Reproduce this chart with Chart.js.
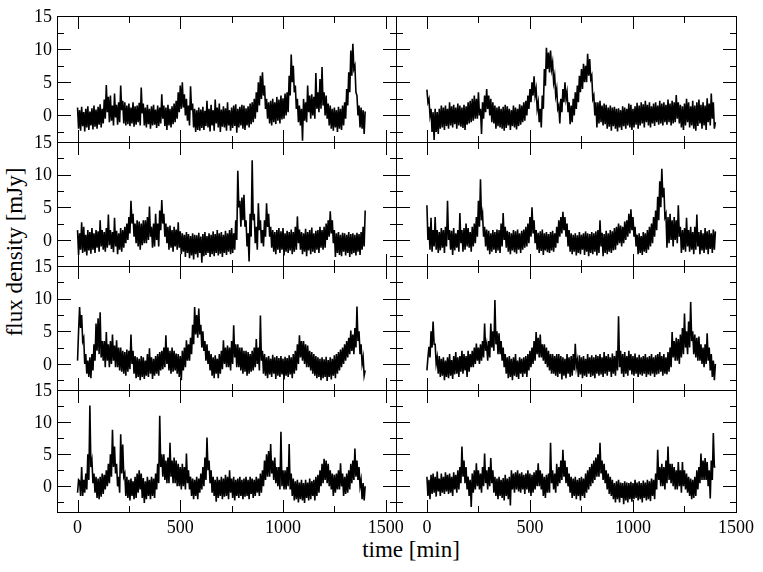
<!DOCTYPE html>
<html><head><meta charset="utf-8">
<script src="https://cdn.jsdelivr.net/npm/chart.js@4"></script>
<style>
html,body{margin:0;padding:0;background:#fff;}
#wrap{position:relative;width:763px;height:572px;overflow:hidden;background:#fff;}
#wrap canvas{position:absolute;left:0;top:0;}
.title{position:absolute;font-family:"Liberation Serif","Times New Roman",serif;font-size:23px;color:#000;white-space:nowrap;line-height:1;}
#xt{left:411px;top:538px;transform:translateX(-50%);}
#yt{left:14px;top:252px;transform:translate(-50%,-50%) rotate(-90deg);}
</style></head><body>
<div id="wrap">
<div class="title" id="xt">time [min]</div>
<div class="title" id="yt">flux density [mJy]</div>
</div>
<script>
// sampling interval of the light curves (minutes)
const sampleStep = 5;

// flux density [mJy], one sample every 5 min from t = 0 to 1400 min (one line = 100 min)
const fluxRow1Left = [
1.2,-2.0, 0.8,-2.3, 1.3,-1.6, 0.5,-2.4, 1.0,-1.8, 1.4,-2.2, 0.6,-1.5, 1.1,-2.1, 1.5,-1.7, 0.9,-2.0,
1.3,-1.4, 1.7,-1.8, 1.0,-1.2, 2.4,-0.5, 4.6,0.5, 2.8,-1.0, 3.0,-0.8, 1.5,-1.5, 3.3,-0.3, 1.6,-1.4,
2.0,-1.0, 4.5,0.8, 2.2,-1.2, 2.0,-1.5, 1.5,-1.3, 1.8,-1.6, 1.2,-1.2, 2.0,-1.7, 1.4,-1.4, 1.5,-1.0,
1.9,-1.5, 4.2,0.3, 1.8,-1.5, 1.2,-1.8, 1.6,-1.3, 1.0,-2.0, 1.4,-1.5, 1.6,-1.4, 0.9,-1.9, 1.5,-1.6,
1.2,-1.2, 3.2,-0.5, 1.5,-1.6, 1.2,-2.2, 1.6,-1.5, 1.0,-1.8, 1.4,-1.3, 1.8,-1.0, 2.2,-0.5, 3.5,0.5,
4.5,1.0, 5.0,1.2, 3.2,0.0, 2.5,-0.8, 1.5,-1.5, 4.4,0.8, 1.8,-1.8, 1.0,-2.5, 0.8,-2.2, 1.2,-2.3,
0.9,-1.9, 1.3,-2.2, 0.7,-1.6, 2.2,-1.8, 1.0,-2.4, 1.6,-1.5, 0.8,-2.3, 2.4,-1.2, 1.2,-1.8, 1.8,-2.5,
0.9,-1.7, 1.4,-1.8, 1.1,-2.3, 2.0,-1.5, 0.8,-2.3, 1.2,-1.9, 1.5,-1.6, 1.7,-2.6, 1.0,-1.8, 1.3,-1.5,
1.6,-2.0, 1.5,-2.2, 1.1,-1.5, 1.4,-1.8, 1.8,-1.3, 2.0,-1.0, 2.5,-0.5, 3.5,0.5, 5.0,1.5, 6.0,2.5,
6.5,3.0, 4.5,1.0, 2.5,-0.5, 2.0,-1.2, 2.2,-1.5, 2.5,-1.0, 2.0,-1.3, 2.8,-0.8, 2.4,-1.2, 3.0,-0.6,
2.6,-0.5, 3.3,0.0, 3.5,0.5, 6.0,3.0, 9.2,5.0, 7.5,3.5, 4.5,1.0, 2.5,-1.0, 1.5,-1.5, 1.0,-3.8,
2.5,-0.8, 2.0,-1.0, 4.5,0.5, 3.0,-0.5, 3.2,0.0, 2.8,-0.5, 6.4,1.0, 3.5,0.5, 5.5,1.0, 7.3,1.5,
3.5,0.0, 3.0,-0.5, 1.8,-1.5, 1.5,-2.0, 1.0,-2.3, 1.2,-1.8, 0.8,-2.5, 1.3,-2.0, 1.0,-2.2, 1.5,-1.5,
2.0,-0.5, 4.0,1.5, 6.5,3.5, 9.8,6.0, 10.8,7.0, 7.5,3.5, 3.0,0.0, 1.5,-1.8, 1.2,-2.0, 0.8,-2.8,
0.6];

const fluxRow1Right = [
3.9,2.0, 2.5,0.0, 1.0,-2.5, 0.5,-3.7, 1.0,-2.5, 0.5,-2.8, 1.0,-2.0, 1.5,-1.8, 1.2,-2.2, 1.5,-1.6,
1.0,-2.0, 2.0,-1.5, 1.4,-1.8, 1.6,-1.3, 1.2,-2.0, 1.8,-1.5, 1.5,-1.7, 1.2,-1.9, 1.6,-2.2, 1.4,-1.4,
2.0,-1.2, 2.2,-1.0, 2.5,-0.8, 3.0,-0.5, 2.5,-0.5, 3.5,0.0, 1.0,-2.8, 2.0,-0.5, 3.0,0.5, 4.0,1.0,
3.0,0.0, 2.5,-1.0, 2.0,-1.2, 1.5,-2.0, 1.2,-1.6, 1.4,-1.8, 1.0,-2.0, 1.3,-2.3, 1.6,-1.9, 1.4,-1.5,
1.0,-2.2, 0.8,-1.6, 1.5,-1.8, 1.2,-2.1, 1.0,-1.6, 1.7,-1.4, 1.5,-1.0, 2.0,-0.8, 2.2,0.0, 3.0,1.0,
4.0,2.0, 5.0,3.0, 5.9,3.0, 4.0,1.0, 2.0,-1.0, 1.0,-1.8, 3.0,1.0, 7.0,4.5, 10.2,7.0, 9.5,6.5,
9.8,7.0, 8.0,5.0, 6.0,3.0, 4.0,1.0, 1.5,-1.2, 2.5,0.5, 4.0,2.0, 5.0,2.5, 3.5,0.5, 2.0,-1.3,
1.5,-1.0, 2.5,0.0, 3.5,1.0, 4.5,2.0, 6.0,3.5, 7.0,4.0, 7.8,5.0, 7.5,5.0, 9.3,6.0, 8.5,5.5,
6.0,2.5, 3.0,0.0, 2.0,-1.8, 2.0,-1.2, 2.2,-1.0, 1.5,-1.5, 1.8,-1.3, 1.6,-2.0, 1.2,-1.7, 1.5,-2.3,
1.2,-1.6, 1.3,-2.0, 1.0,-2.4, 1.1,-1.8, 0.8,-2.2, 1.4,-1.6, 1.2,-2.0, 1.0,-1.5, 1.8,-1.8, 1.6,-2.2,
1.0,-1.8, 1.4,-1.4, 1.9,-2.0, 1.5,-1.5, 2.0,-1.2, 1.7,-1.8, 2.2,-1.0, 1.6,-1.5, 2.0,-1.8, 1.4,-1.2,
1.8,-1.6, 2.0,-1.0, 1.5,-1.4, 2.2,-1.2, 1.8,-1.5, 2.0,-1.0, 1.6,-1.4, 2.4,-1.0, 1.8,-1.5, 2.2,-1.2,
2.0,-1.0, 3.1,-0.5, 2.0,-1.2, 1.6,-1.8, 1.4,-2.2, 1.8,-1.5, 2.5,-1.0, 2.0,-1.8, 1.4,-1.5, 2.2,-2.0,
1.5,-2.3, 2.0,-1.6, 2.4,-1.2, 1.6,-2.0, 2.0,-1.5, 1.5,-2.2, 2.6,-1.0, 1.8,-1.5, 3.3,-0.5, 2.0,-2.0,
-1.0];

const fluxRow2Left = [
1.5,-2.3, 1.0,-1.5, 2.7,-2.0, 2.0,-1.8, 0.8,-2.4, 1.5,-1.6, 1.2,-2.1, 1.8,-1.5, 1.0,-2.0, 1.5,-1.2,
1.3,-1.8, 3.0,-1.0, 1.5,-1.5, 1.2,-1.8, 1.8,-1.2, 3.9,-0.8, 1.5,-1.4, 1.2,-1.9, 3.4,-1.0, 1.4,-2.2,
1.0,-1.5, 1.8,-1.8, 1.5,-1.2, 2.0,-0.5, 2.5,0.0, 3.5,1.0, 6.0,2.5, 4.0,0.5, 2.5,-0.5, 3.0,-1.0,
2.8,-1.5, 2.5,-0.8, 3.0,-0.5, 3.0,-0.5, 3.5,0.0, 5.1,0.5, 2.0,-1.2, 2.5,-1.0, 4.0,0.0, 2.5,-1.0,
4.5,1.5, 6.1,2.5, 4.0,0.5, 2.5,-0.5, 2.0,-1.5, 2.2,-1.2, 1.5,-1.8, 2.0,-1.0, 1.6,-1.5, 2.7,-1.2,
1.3,-2.2, 1.0,-1.8, 0.8,-2.6, 1.2,-2.0, 0.9,-2.8, 0.6,-2.4, 1.0,-3.0, 0.8,-2.2, 0.7,-2.7, 1.1,-2.0,
0.5,-3.5, 0.9,-2.5, 1.2,-2.3, 0.6,-2.0, 1.0,-2.6, 0.8,-2.2, 1.3,-2.5, 0.9,-2.0, 1.5,-2.4, 1.0,-2.1,
1.2,-2.6, 0.8,-2.0, 1.4,-2.3, 1.0,-1.8, 1.5,-2.2, 1.8,-2.0, 1.0,-1.5, 3.0,0.0, 10.6,5.0, 6.0,2.0,
6.5,3.0, 6.9,2.0, 3.0,-1.0, 1.0,-3.3, 4.0,0.5, 12.2,3.0, 4.0,-0.5, 2.0,-1.5, 5.6,1.5, 3.0,-0.5,
1.5,-1.0, 3.0,0.5, 5.6,2.0, 4.0,0.5, 2.0,-1.2, 1.5,-1.8, 1.2,-2.2, 1.5,-1.5, 1.8,-2.0, 1.3,-1.5,
1.8,-2.4, 1.0,-1.8, 1.4,-2.0, 1.2,-1.6, 1.6,-2.2, 1.2,-1.8, 2.0,-1.5, 3.6,-0.5, 1.6,-1.5, 1.2,-2.2,
1.0,-1.8, 1.7,-2.5, 1.2,-1.6, 1.5,-2.2, 1.9,-1.8, 1.0,-2.0, 1.4,-1.5, 1.5,-2.0, 2.0,-1.2, 1.5,-1.5,
2.0,-1.2, 2.5,0.0, 3.0,0.5, 4.4,1.0, 3.0,-0.5, 1.5,-2.6, 1.0,-2.0, 1.2,-2.3, 0.8,-2.5, 1.1,-1.8,
1.0,-2.4, 0.8,-2.0, 1.2,-2.6, 0.9,-2.2, 1.0,-2.0, 0.8,-2.4, 1.1,-1.8, 0.9,-2.3, 1.2,-1.5, 2.0,-1.0,
4.5];

const fluxRow2Right = [
5.3,0.0, 2.0,-1.5, 3.4,-1.8, 1.5,-1.0, 3.5,-1.5, 1.5,-2.0, 1.2,-1.6, 1.8,-1.2, 1.5,-2.0, 2.0,-1.0,
6.0,0.0, 1.5,-1.5, 1.4,-2.3, 1.8,-1.6, 1.0,-1.2, 1.5,-1.8, 4.1,-0.5, 1.5,-1.8, 1.8,-1.5, 2.5,-1.0,
1.8,-1.2, 1.2,-1.8, 2.0,-1.0, 2.5,-0.5, 3.5,0.5, 6.0,2.0, 9.3,3.0, 4.0,0.5, 2.0,-1.0, 1.6,-1.6,
1.4,-2.2, 1.0,-1.8, 1.5,-1.5, 1.2,-2.0, 1.6,-1.6, 1.5,-2.0, 2.5,-1.0, 4.1,0.0, 2.0,-1.2, 1.4,-1.8,
1.2,-2.2, 1.0,-1.6, 1.5,-1.9, 1.3,-2.1, 1.6,-1.5, 1.0,-2.0, 1.4,-1.5, 1.6,-1.2, 2.0,-1.0, 2.5,-0.5,
3.5,0.5, 5.0,1.0, 3.0,-0.5, 1.5,-1.5, 1.1,-2.0, 1.3,-1.7, 1.6,-2.3, 1.0,-1.6, 1.2,-1.9, 0.9,-2.0,
1.2,-1.6, 1.4,-1.8, 1.0,-1.2, 2.0,-0.5, 3.0,0.5, 3.5,1.0, 4.3,1.5, 3.5,0.5, 2.5,-1.0, 1.5,-1.8,
1.0,-2.2, 0.8,-1.8, 1.0,-2.4, 0.7,-2.0, 1.2,-2.2, 0.8,-1.5, 1.0,-2.3, 1.3,-1.8, 1.0,-2.5, 0.9,-2.0,
1.2,-2.2, 1.0,-1.8, 1.3,-2.4, 1.5,-2.0, 3.0,-1.0, 1.1,-2.5, 0.9,-2.0, 1.4,-2.2, 1.0,-1.8, 1.5,-2.0,
1.3,-1.6, 1.8,-1.5, 2.0,-0.8, 2.5,-0.5, 2.2,-1.0, 2.0,-0.5, 2.8,0.0, 3.0,0.5, 4.0,1.0, 4.7,1.5,
3.5,0.5, 2.0,-1.0, 0.8,-2.2, 1.0,-2.0, 0.6,-2.3, 1.2,-1.8, 1.0,-2.0, 1.5,-1.5, 2.0,-1.0, 2.5,-0.5,
3.5,0.5, 4.5,1.5, 6.6,3.0, 9.0,5.0, 10.9,6.5, 8.0,3.5, 4.0,-1.2, 3.5,-0.5, 4.0,0.0, 3.0,-1.0,
3.5,0.0, 3.0,-0.5, 5.3,0.5, 2.0,-2.0, 1.5,-1.5, 1.8,-1.8, 3.4,-1.0, 1.5,-1.8, 2.0,-1.5, 1.2,-2.2,
2.0,-1.5, 3.9,-1.0, 1.2,-2.2, 1.5,-1.6, 1.0,-2.0, 1.8,-1.5, 1.3,-2.2, 1.5,-1.4, 1.0,-2.0, 1.6,-1.5,
1.3];

const fluxRow3Left = [
0.5,5.0, 8.7,5.5, 7.5,3.5, 4.0,0.0, 1.5,-1.5, 0.5,-2.0, 1.0,-2.2, 1.5,-1.0, 3.0,0.5, 6.2,2.0,
7.0,1.5, 7.9,1.0, 3.5,0.5, 3.5,-0.5, 4.9,0.5, 3.0,-0.5, 3.5,0.0, 4.5,0.5, 2.8,-0.5, 3.6,-0.5,
2.5,-1.0, 2.5,-1.2, 2.0,-1.5, 1.8,-1.8, 2.2,-1.2, 2.0,-0.8, 4.5,0.0, 2.0,-1.5, 1.2,-2.2, 1.0,-2.0,
0.8,-2.5, 1.2,-2.0, 1.0,-2.3, 0.5,-1.8, 1.5,-2.0, 2.4,-1.5, 1.0,-2.3, 0.8,-1.8, 1.2,-1.5, 1.5,-1.8,
1.8,-1.0, 2.0,-0.8, 2.5,-0.5, 4.4,0.0, 2.5,-1.0, 2.0,-1.5, 2.5,-1.2, 2.0,-1.0, 1.6,-1.5, 1.5,-2.0,
1.2,-2.5, 2.0,-1.0, 2.5,-0.5, 3.6,0.5, 3.0,0.5, 4.0,1.5, 6.0,3.0, 8.7,4.5, 7.5,4.0, 8.5,4.5,
6.0,2.5, 5.0,2.0, 3.5,0.5, 3.0,0.0, 2.0,-1.0, 1.5,-1.8, 1.0,-2.2, 1.3,-1.5, 0.8,-2.2, 1.5,-1.5,
2.0,-0.8, 3.6,0.0, 2.5,-0.5, 2.8,-0.5, 2.5,-1.0, 3.5,0.0, 5.9,1.0, 3.0,-0.5, 3.0,-0.5, 2.5,-1.0,
2.5,-1.5, 2.0,-1.2, 2.0,-1.8, 1.8,-1.5, 1.5,-1.2, 2.0,-1.0, 2.5,-0.5, 3.8,0.0, 2.5,-1.0, 7.4,0.5,
2.0,-1.5, 1.5,-1.8, 1.0,-2.2, 1.2,-1.6, 0.8,-2.0, 1.4,-1.5, 1.0,-2.3, 1.2,-1.8, 0.9,-2.0, 1.2,-1.6,
0.8,-2.4, 1.1,-1.8, 0.9,-2.0, 1.3,-1.6, 1.0,-2.2, 1.5,-1.5, 2.0,-1.0, 3.0,0.0, 4.4,1.0, 3.5,0.5,
3.5,0.0, 3.0,-0.5, 2.8,-0.5, 2.0,-1.0, 1.8,-1.5, 1.5,-1.8, 1.2,-2.2, 1.0,-2.0, 0.8,-2.5, 1.0,-2.2,
0.7,-2.0, 1.1,-2.6, 0.6,-2.0, 1.0,-2.4, 0.8,-1.8, 1.3,-2.2, 1.5,-1.5, 1.8,-1.0, 2.2,-0.5, 2.5,0.0,
3.0,0.5, 3.5,1.0, 4.0,1.5, 5.1,2.0, 4.5,1.5, 5.5,2.5, 8.8,3.5, 5.0,1.5, 3.0,0.0, 1.0,-1.8,
-1.0];

const fluxRow3Right = [
-1.0,1.0, 2.6,1.0, 5.0,2.5, 6.5,3.0, 3.0,0.0, 1.0,-1.5, 1.2,-2.0, 0.8,-1.8, 1.0,-2.5, 0.5,-2.0,
1.0,-2.2, 1.5,-1.8, 0.6,-2.3, 1.2,-1.6, 1.8,-1.5, 1.0,-2.0, 1.2,-1.2, 2.0,-1.5, 1.5,-1.0, 1.2,-2.0,
2.0,-1.2, 1.5,-0.5, 2.0,-0.5, 2.5,0.0, 3.1,0.5, 2.5,0.0, 3.0,0.5, 3.5,1.0, 6.2,2.0, 3.0,0.5,
3.5,1.0, 6.2,2.5, 5.0,2.0, 9.8,3.0, 5.0,1.5, 4.7,1.5, 3.5,0.5, 2.5,-0.5, 1.5,-1.5, 1.0,-2.2,
1.2,-2.0, 0.8,-2.5, 1.0,-1.8, 1.5,-2.0, 0.5,-2.3, 1.0,-1.5, 0.8,-2.0, 1.0,-1.5, 1.2,-2.0, 1.5,-1.0,
2.0,-0.5, 2.5,0.0, 3.5,0.5, 4.9,1.5, 4.0,1.0, 4.5,1.0, 3.0,0.5, 3.0,0.0, 2.5,-0.5, 2.0,-1.0,
1.5,-1.5, 1.5,-1.5, 1.2,-1.8, 1.5,-2.0, 1.5,-1.5, 1.2,-2.4, 1.0,-1.8, 0.8,-2.2, 1.5,-1.5, 1.0,-2.0,
1.2,-1.8, 1.5,-1.0, 3.1,-0.5, 0.5,-2.0, 1.3,-1.6, 1.0,-2.2, 1.2,-1.8, 0.8,-2.0, 1.5,-1.5, 1.0,-2.0,
1.3,-1.8, 1.0,-2.2, 1.4,-1.5, 1.2,-1.8, 1.5,-1.6, 1.0,-2.0, 1.8,-1.5, 1.2,-1.8, 1.5,-1.2, 1.0,-2.0,
1.6,-1.5, 1.2,-1.8, 2.0,-1.0, 7.3,-0.5, 2.0,-1.5, 1.5,-2.0, 1.8,-1.5, 1.2,-1.8, 2.0,-1.0, 1.5,-1.6,
1.2,-1.8, 1.6,-1.5, 1.0,-2.0, 1.4,-1.6, 1.0,-1.8, 1.2,-1.5, 1.5,-2.0, 1.0,-1.6, 1.2,-1.8, 1.5,-1.5,
1.0,-2.0, 1.3,-1.6, 1.5,-1.5, 1.8,-1.2, 1.2,-1.8, 1.5,-1.5, 1.0,-1.6, 1.8,-1.2, 2.5,-0.5, 4.9,1.0,
3.5,0.5, 4.0,0.5, 3.8,0.0, 4.5,1.0, 5.5,1.5, 7.7,2.5, 5.0,1.5, 6.5,2.5, 9.5,3.5, 5.0,1.5,
4.5,1.0, 4.0,0.5, 4.2,0.5, 3.0,0.0, 2.5,-0.5, 3.0,0.0, 4.7,0.5, 2.5,-1.0, 1.5,-2.0, 0.5,-2.5,
0.0];

const fluxRow4Left = [
-1.0,1.0, 0.8,-1.5, 3.0,-1.5, 1.0,-1.0, 2.0,-0.5, 5.0,1.0, 12.6,3.0, 4.0,0.5, 2.0,-1.0, 1.5,-1.8,
1.2,-2.0, 1.5,-1.6, 2.0,-1.2, 1.8,-0.5, 2.5,0.0, 3.5,0.5, 5.0,1.5, 8.8,3.0, 6.2,2.0, 3.5,0.0,
1.5,-1.0, 8.1,2.0, 6.5,1.5, 2.0,-1.5, 1.5,-1.8, 1.0,-2.2, 1.2,-1.5, 0.8,-2.0, 1.5,-1.8, 2.0,-1.0,
2.5,-0.5, 2.0,-1.8, 1.3,-2.6, 0.8,-2.0, 1.5,-1.5, 1.0,-2.0, 1.5,-1.5, 1.2,-1.8, 2.0,-0.5, 3.5,0.5,
11.0,3.0, 5.0,1.5, 5.0,1.0, 4.0,0.5, 4.5,0.5, 6.8,1.5, 4.0,0.5, 4.5,0.5, 4.0,0.0, 3.5,0.0,
3.0,-0.5, 3.5,0.0, 3.0,-0.5, 5.1,0.5, 2.5,-0.5, 1.5,-1.5, 1.2,-2.0, 1.0,-1.5, 1.5,-2.0, 1.2,-1.0,
2.0,-0.5, 3.0,0.0, 4.5,1.0, 7.6,2.5, 4.0,0.5, 2.5,-1.0, 1.5,-1.5, 1.0,-2.4, 1.5,-1.8, 1.0,-1.5,
1.5,-2.0, 1.2,-1.6, 1.8,-1.5, 1.5,-2.0, 2.5,-1.0, 1.2,-1.8, 1.5,-2.2, 1.0,-1.5, 1.2,-1.8, 1.5,-1.5,
1.0,-2.0, 1.2,-1.6, 1.5,-1.5, 1.0,-2.0, 1.5,-1.2, 1.2,-1.8, 1.0,-1.5, 1.5,-1.0, 1.2,-1.5, 2.0,-1.0,
2.5,0.0, 4.0,1.0, 5.0,1.5, 5.5,1.5, 6.6,2.0, 4.0,1.0, 4.5,0.5, 3.0,0.0, 3.0,-0.5, 8.5,0.0,
2.5,-0.5, 2.5,-0.5, 3.0,0.0, 6.6,-0.5, 2.0,-1.5, 1.2,-2.2, 0.8,-2.0, 1.0,-2.5, 0.6,-2.0, 1.0,-2.2,
0.5,-2.6, 1.0,-1.8, 0.6,-2.2, 1.2,-2.0, 0.8,-1.5, 1.0,-2.2, 1.5,-1.5, 1.8,-1.0, 2.5,0.0, 3.5,0.5,
4.3,1.0, 4.0,0.5, 3.5,0.0, 2.5,-0.5, 2.0,-1.5, 1.8,-1.0, 2.0,-0.5, 2.5,-0.5, 3.6,0.0, 2.0,-1.5,
1.5,-1.2, 2.0,-1.0, 2.5,-0.5, 3.5,0.5, 4.0,1.0, 5.9,1.5, 4.0,1.0, 3.0,0.0, 1.0,-2.0, 0.5,-2.2,
0.0];

const fluxRow4Right = [
1.5,-1.5, 1.0,-2.0, 1.8,-1.2, 2.0,-1.0, 1.5,-1.6, 2.3,-0.8, 1.2,-1.5, 2.0,-1.0, 1.5,-1.2, 2.2,-0.8,
1.8,-1.2, 2.0,-1.0, 1.5,-1.5, 2.2,-0.5, 1.8,-1.0, 2.5,-0.5, 3.0,0.5, 6.2,1.5, 4.0,0.5, 3.0,-0.5,
1.5,-1.5, 1.0,-3.2, 2.0,-1.0, 2.5,-0.5, 3.6,0.0, 2.5,-0.5, 2.0,-1.0, 3.0,0.0, 5.1,0.5, 2.5,-0.5,
3.0,0.0, 4.4,0.5, 2.5,-1.0, 1.5,-1.5, 1.2,-2.0, 1.5,-1.5, 1.0,-1.8, 1.3,-2.2, 1.8,-1.5, 1.2,-2.0,
1.5,-3.0, 2.5,-0.5, 2.0,-1.0, 2.2,-0.5, 2.5,-0.8, 2.0,-1.0, 2.2,-0.5, 1.8,-1.2, 2.0,-0.5, 2.5,-1.0,
2.0,-1.5, 1.8,-1.0, 2.2,-0.5, 2.5,0.0, 3.6,0.0, 2.5,-0.5, 2.0,-1.5, 1.5,-1.8, 1.8,-1.0, 2.0,-1.0,
6.8,0.5, 2.5,-0.5, 2.0,-1.0, 3.5,0.0, 3.0,0.5, 4.0,1.0, 5.7,1.5, 4.0,0.5, 3.0,0.0, 2.0,-1.0,
1.5,-1.8, 1.2,-1.5, 1.5,-2.0, 1.0,-1.5, 1.3,-2.2, 1.5,-1.5, 1.2,-1.8, 2.0,-1.0, 2.5,-0.5, 3.0,0.0,
3.5,0.5, 4.0,1.0, 4.5,1.5, 5.0,1.5, 6.8,2.0, 4.0,1.0, 3.5,0.5, 2.5,-0.5, 2.0,-1.2, 1.5,-1.5,
1.0,-2.0, 0.5,-2.5, 0.8,-2.0, 1.0,-2.5, 0.6,-1.8, 0.5,-2.8, 0.8,-2.2, 0.6,-2.5, 0.5,-2.0, 0.7,-2.4,
0.5,-2.0, 1.0,-1.8, 0.6,-2.2, 0.8,-2.0, 0.5,-2.5, 0.9,-1.8, 0.6,-2.2, 1.0,-2.0, 0.8,-2.3, 1.2,-1.5,
1.0,-2.0, 2.0,-0.5, 5.7,1.0, 3.0,0.0, 3.5,0.0, 3.0,-0.5, 4.0,0.5, 6.2,1.0, 3.5,0.5, 3.5,0.0,
3.0,-0.5, 2.5,-0.5, 3.8,0.0, 2.5,-1.0, 3.8,0.0, 2.5,-0.5, 2.0,-1.0, 1.5,-1.5, 1.2,-2.0, 1.0,-1.8,
1.5,-1.5, 2.5,-0.5, 3.0,0.5, 5.1,1.0, 4.0,1.0, 4.4,1.0, 3.8,0.0, 2.5,-1.9, 4.0,1.0, 8.3,3.0,
3.0];

// tick values / labels
const xTickMajor = [0, 500, 1000, 1500];
const xTickMinor = [250, 750, 1250];
const yTickMajor = [0, 5, 10, 15];
const yTickMinor = [-2.5, 2.5, 7.5, 12.5];
const yRange = [-4, 15];
const xRangeLeft = [-100, 1550];
const xRangeRight = [-150, 1500];

// ---- layout (pixels) ----
const W = 763, H = 572;
const cols = [{left:57, right:396, range:xRangeLeft}, {left:396, right:736, range:xRangeRight}];
const rows = [[16,142],[142,266],[266,390],[390,512]];
const grid = [
  [fluxRow1Left, fluxRow1Right],
  [fluxRow2Left, fluxRow2Right],
  [fluxRow3Left, fluxRow3Right],
  [fluxRow4Left, fluxRow4Right]
];
const FONT = '18px "Liberation Serif", "Times New Roman", serif';

const framePlugin = {
  id: 'frame',
  afterDraw(chart, args, opts) {
    const ctx = chart.ctx, a = chart.chartArea, x = chart.scales.x, y = chart.scales.y;
    ctx.save();
    ctx.strokeStyle = '#000';
    ctx.lineWidth = 1;
    ctx.strokeRect(a.left + 0.5, a.top + 0.5, a.right - a.left, a.bottom - a.top);
    ctx.beginPath();
    const xt = (v, len) => {
      if (v < x.min || v > x.max) return;
      const px = Math.round(x.getPixelForValue(v)) + 0.5;
      ctx.moveTo(px, a.top); ctx.lineTo(px, a.top + len);
      ctx.moveTo(px, a.bottom + 1); ctx.lineTo(px, a.bottom + 1 - len);
    };
    const yt = (v, len) => {
      if (v < y.min || v > y.max) return;
      const py = Math.round(y.getPixelForValue(v)) + 0.5;
      ctx.moveTo(a.left, py); ctx.lineTo(a.left + len, py);
      ctx.moveTo(a.right + 1, py); ctx.lineTo(a.right + 1 - len, py);
    };
    xTickMajor.forEach(v => xt(v, 13));
    xTickMinor.forEach(v => xt(v, 7));
    yTickMajor.forEach(v => yt(v, 14));
    yTickMinor.forEach(v => yt(v, 7));
    ctx.stroke();
    ctx.fillStyle = '#000';
    ctx.font = FONT;
    if (opts.yLabels) {
      ctx.textAlign = 'right';
      ctx.textBaseline = 'middle';
      yTickMajor.forEach(v => ctx.fillText(String(v), a.left - 5, y.getPixelForValue(v) + 1));
    }
    if (opts.xLabels) {
      ctx.textAlign = 'center';
      ctx.textBaseline = 'alphabetic';
      xTickMajor.forEach(v => { if (v >= x.min && v <= x.max) ctx.fillText(String(v), x.getPixelForValue(v), a.bottom + 21); });
    }
    ctx.restore();
  }
};

const wrap = document.getElementById('wrap');
rows.forEach((r, ri) => {
  cols.forEach((c, ci) => {
    const cv = document.createElement('canvas');
    cv.width = W; cv.height = H;
    cv.style.width = W + 'px'; cv.style.height = H + 'px';
    wrap.appendChild(cv);
    const values = grid[ri][ci];
    new Chart(cv, {
      type: 'line',
      data: {
        datasets: [{
          data: values.map((v, i) => ({x: i * sampleStep, y: v})),
          borderColor: '#000',
          borderWidth: 1.6,
          pointRadius: 0,
          tension: 0,
          fill: false
        }]
      },
      options: {
        responsive: false,
        devicePixelRatio: 1,
        animation: false,
        events: [],
        layout: {padding: {left: c.left, right: W - c.right, top: r[0], bottom: H - r[1]}},
        scales: {
          x: {type: 'linear', min: c.range[0], max: c.range[1], display: false},
          y: {type: 'linear', min: yRange[0], max: yRange[1], display: false}
        },
        plugins: {
          legend: {display: false},
          tooltip: {enabled: false},
          frame: {yLabels: ci === 0, xLabels: ri === rows.length - 1}
        }
      },
      plugins: [framePlugin]
    });
  });
});
</script>
</body></html>
